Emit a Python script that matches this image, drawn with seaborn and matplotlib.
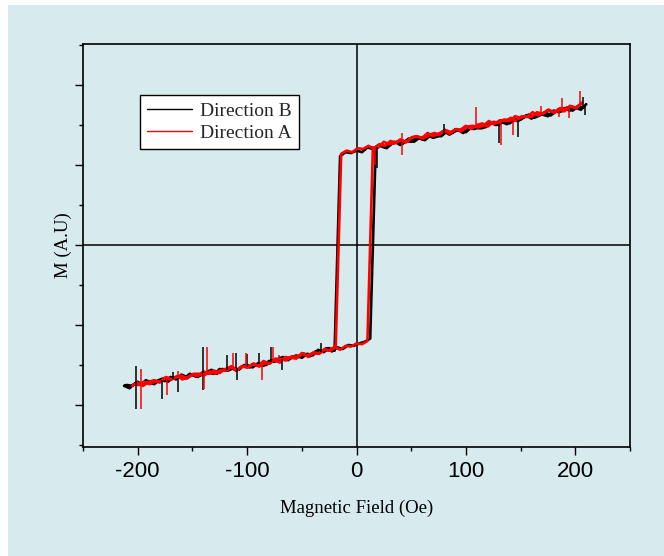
import numpy as np
import pandas as pd
import matplotlib
matplotlib.use("Agg")
import matplotlib.pyplot as plt
from matplotlib.patches import Rectangle
from matplotlib.ticker import MultipleLocator
from matplotlib.font_manager import FontProperties
import seaborn as sns

# ---- measured loops: field sweeps (Oe) and magnetisation (A.U) ----
# Direction B: sweep down from +210 Oe, then back up from -212.5 Oe (5 Oe steps)
b_down_start, b_down_step = 210.0, -5.0
b_down_M = [1.76, 1.69, 1.72, 1.68, 1.71, 1.66, 1.68, 1.61, 1.63, 1.64,
            1.58, 1.62, 1.57, 1.57, 1.52, 1.56, 1.50, 1.52, 1.52, 1.46,
            1.46, 1.47, 1.41, 1.44, 1.43, 1.38, 1.42, 1.36, 1.34, 1.37,
            1.32, 1.35, 1.29, 1.30, 1.25, 1.29, 1.25, 1.22, 1.25, 1.20,
            1.22, 1.16, 1.18, 1.15, 1.16, 1.11,
            -1.32, -1.29, -1.34, -1.31, -1.38, -1.36, -1.41, -1.38, -1.41, -1.44,
            -1.41, -1.46, -1.45, -1.51, -1.48, -1.53, -1.50, -1.52, -1.57, -1.53,
            -1.57, -1.55, -1.61, -1.60, -1.59, -1.65, -1.62, -1.65, -1.62, -1.68,
            -1.65, -1.70, -1.69, -1.74, -1.70, -1.75, -1.71, -1.76, -1.75]
b_up_start, b_up_step = -212.5, 5.0
b_up_M = [-1.76, -1.79, -1.73, -1.75, -1.69, -1.73, -1.70, -1.67, -1.71, -1.66,
          -1.64, -1.67, -1.61, -1.64, -1.63, -1.59, -1.56, -1.61, -1.55, -1.57,
          -1.54, -1.56, -1.50, -1.53, -1.49, -1.49, -1.50, -1.44, -1.45, -1.40,
          -1.44, -1.39, -1.40, -1.36, -1.39, -1.33, -1.34, -1.29, -1.33, -1.28,
          -1.30, -1.25, -1.26, -1.23, -1.21, -1.17,
          1.20, 1.25, 1.21, 1.27, 1.29, 1.27, 1.33, 1.29, 1.34, 1.31,
          1.37, 1.37, 1.36, 1.42, 1.40, 1.44, 1.40, 1.46, 1.45, 1.49,
          1.47, 1.53, 1.50, 1.54, 1.51, 1.58, 1.55, 1.59, 1.63, 1.59,
          1.62, 1.66, 1.62, 1.67, 1.67, 1.72, 1.68, 1.73, 1.72]

# Direction A: sweep down from +206 Oe, then back up from -205 Oe (5 Oe steps)
a_down_start, a_down_step = 206.0, -5.0
a_down_M = [1.78, 1.71, 1.73, 1.70, 1.71, 1.65, 1.69, 1.65, 1.62, 1.66,
            1.60, 1.61, 1.55, 1.59, 1.55, 1.56, 1.51, 1.55, 1.49, 1.47,
            1.49, 1.48, 1.42, 1.45, 1.41, 1.44, 1.38, 1.40, 1.37, 1.33,
            1.35, 1.35, 1.29, 1.31, 1.28, 1.30, 1.24, 1.26, 1.20, 1.24,
            1.20, 1.21, 1.16, 1.18, 1.14,
            -1.28, -1.32, -1.30, -1.36, -1.34, -1.40, -1.36, -1.40, -1.39, -1.44,
            -1.43, -1.42, -1.48, -1.48, -1.52, -1.48, -1.53, -1.51, -1.56, -1.52,
            -1.57, -1.56, -1.61, -1.58, -1.63, -1.61, -1.61, -1.65, -1.68, -1.64,
            -1.68, -1.65, -1.71, -1.70, -1.74, -1.71, -1.75, -1.74]
a_up_start, a_up_step = -205.0, 5.0
a_up_M = [-1.76, -1.72, -1.76, -1.71, -1.69, -1.72, -1.66, -1.68, -1.66, -1.63,
          -1.67, -1.62, -1.64, -1.58, -1.61, -1.57, -1.60, -1.55, -1.52, -1.57,
          -1.52, -1.53, -1.49, -1.51, -1.45, -1.48, -1.44, -1.47, -1.40, -1.41,
          -1.42, -1.35, -1.38, -1.35, -1.36, -1.31, -1.32, -1.27, -1.31, -1.26,
          -1.27, -1.23, -1.24, -1.20,
          1.22, 1.22, 1.29, 1.26, 1.27, 1.32, 1.28, 1.34, 1.36, 1.34,
          1.40, 1.36, 1.39, 1.43, 1.39, 1.44, 1.44, 1.49, 1.45, 1.50,
          1.52, 1.48, 1.54, 1.53, 1.57, 1.55, 1.61, 1.59, 1.61, 1.60,
          1.66, 1.64, 1.69, 1.66, 1.70, 1.67, 1.74, 1.72, 1.76]

# Single-reading glitches: field, lowest and highest value of each spike
b_spike_H = [-202, -178, -168, -163, -140, -118, -110, -109, -100, -89, -78, -68, -32,
             19, 80, 130, 148, 207, 209]
b_spike_lo = [-2.05, -1.93, -1.67, -1.84, -1.81, -1.56, -1.54, -1.69, -1.52, -1.49, -1.46,
              -1.56, -1.34, 0.96, 1.38, 1.27, 1.35, 1.72, 1.62]
b_spike_hi = [-1.51, -1.69, -1.59, -1.66, -1.27, -1.37, -1.35, -1.54, -1.36, -1.35, -1.28,
              -1.43, -1.23, 1.22, 1.51, 1.51, 1.56, 1.85, 1.74]
a_spike_H = [-197, -173, -163, -139, -137, -113, -101, -86, -76, -71, -30,
             17, 42, 109, 132, 143, 169, 185, 188, 194, 204]
a_spike_lo = [-2.05, -1.87, -1.66, -1.80, -1.62, -1.55, -1.52, -1.69, -1.45, -1.44, -1.33,
              1.00, 1.12, 1.47, 1.25, 1.37, 1.63, 1.60, 1.70, 1.59, 1.75]
a_spike_hi = [-1.55, -1.68, -1.58, -1.60, -1.28, -1.35, -1.35, -1.48, -1.28, -1.37, -1.29,
              1.22, 1.40, 1.72, 1.54, 1.57, 1.74, 1.70, 1.84, 1.72, 1.93]

labels = ["Direction B", "Direction A"]
colors = {"Direction B": "#000000", "Direction A": "#ff0000"}
x_ticks = [-200, -100, 0, 100, 200]
BG = "#d7eaee"


def sweep(start, step, values):
    return start + step * np.arange(len(values))


def loop_frame(name, d_start, d_step, d_M, u_start, u_step, u_M):
    H = np.concatenate([sweep(d_start, d_step, d_M), sweep(u_start, u_step, u_M)])
    M = np.concatenate([d_M, u_M])
    return pd.DataFrame({"H": H, "M": M, "Direction": name})


df = pd.concat([
    loop_frame("Direction B", b_down_start, b_down_step, b_down_M,
               b_up_start, b_up_step, b_up_M),
    loop_frame("Direction A", a_down_start, a_down_step, a_down_M,
               a_up_start, a_up_step, a_up_M),
], ignore_index=True)

sns.set_style("ticks")
plt.rcParams["font.family"] = ["Liberation Sans", "DejaVu Sans"]
plt.rcParams["axes.unicode_minus"] = False

fig = plt.figure(figsize=(6.64, 5.56), dpi=100)
fig.patch.set_facecolor("white")
fig.patches.append(Rectangle((8 / 664, 0), 1, 551 / 556, transform=fig.transFigure,
                             facecolor=BG, edgecolor="none", zorder=-10))
ax = fig.add_axes([83 / 664, 1 - 447 / 556, 547 / 664, 403 / 556])
ax.set_facecolor(BG)

# axis cross through the origin
ax.axvline(0, color="black", lw=1.1, zorder=1)
ax.axhline(0, color="black", lw=1.1, zorder=1)

sns.lineplot(data=df, x="H", y="M", hue="Direction", hue_order=labels,
             palette=colors, sort=False, estimator=None, lw=1.9, ax=ax, zorder=2)

ax.vlines(b_spike_H, b_spike_lo, b_spike_hi, color=colors["Direction B"], lw=1.1, zorder=2)
ax.vlines(a_spike_H, a_spike_lo, a_spike_hi, color=colors["Direction A"], lw=1.1, zorder=3)

ax.set_xlim(-250, 250)
ax.set_ylim(-2.525, 2.5125)
ax.set_xticks(x_ticks)
ax.xaxis.set_minor_locator(MultipleLocator(50))
ax.yaxis.set_major_locator(MultipleLocator(1))
ax.yaxis.set_minor_locator(MultipleLocator(0.5))
ax.tick_params(which="major", direction="out", length=6, width=1.0, labelsize=16,
               pad=4, color="black", labelcolor="black")
ax.tick_params(which="minor", direction="out", length=3, width=1.0, color="black")
ax.tick_params(axis="y", labelleft=False)
for s in ax.spines.values():
    s.set_visible(True)
    s.set_linewidth(1.2)
    s.set_color("black")

serif = FontProperties(family="Liberation Serif", size=13.5)
ax.set_xlabel("Magnetic Field (Oe)", fontproperties=serif, labelpad=13, color="black")
ax.set_ylabel("M (A.U)", fontproperties=serif, labelpad=1.5, color="black")

legend_font = FontProperties(family="Liberation Serif", size=14)
handles, labs = ax.get_legend_handles_labels()
leg = ax.legend(handles, labs, loc="upper left", bbox_to_anchor=(0.104, 0.873),
                borderaxespad=0, prop=legend_font, frameon=True, fancybox=False,
                edgecolor="black", facecolor="white", framealpha=1,
                borderpad=0.38, labelspacing=0.22, handlelength=2.3, handletextpad=0.4)
leg.get_frame().set_linewidth(1.0)
for h in leg.get_lines():
    h.set_linewidth(1.0)

fig.savefig("out.png", dpi=100, facecolor=fig.get_facecolor())
